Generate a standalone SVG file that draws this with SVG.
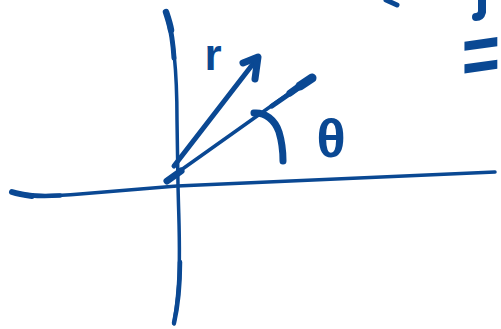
<svg xmlns="http://www.w3.org/2000/svg" width="501" height="329" viewBox="0 0 501 329">
<style>
.ink{fill:none;stroke:#0a4893;stroke-linecap:round;stroke-linejoin:round}
.lbl{fill:#0a4893;font-family:"Liberation Sans",Arial,sans-serif;font-weight:bold}
</style>
<rect width="501" height="329" fill="#ffffff"/>
<g id="axes">
<path class="ink" stroke-width="3.5" d="M166,11 C172,30 177,60 177,120 L178,185 C179,230 181,260 178,290 C177,305 175,315 174,324"/>
<path class="ink" stroke-width="6.5" d="M166,12 C168,18 170,24 171,30"/>
<path class="ink" stroke-width="5" d="M168,18 C171,30 173,42 174,58"/>
<path class="ink" stroke-width="4.5" d="M180,262 C180,290 177,310 174,323"/>
<path class="ink" stroke-width="3.5" d="M12,192 C25,196 45,197 80,194 L177,186 L495,172"/>
<path class="ink" stroke-width="6" d="M12,192 C18,194 24,195 32,196"/>
<path class="ink" stroke-width="4.5" d="M20,194 C30,196 42,196.5 60,195.5"/>
</g>
<g id="connectors">
<g id="vector-r">
<path class="ink" stroke-width="5" d="M174,166 L256,60"/>
<path class="ink" stroke-width="7" d="M243,63 L258,57 L255,79"/>
</g>
<g id="ray-theta">
<path class="ink" stroke-width="3.5" d="M167,180 L312,77"/>
<path class="ink" stroke-width="7" d="M167,181 L181,171"/>
<path class="ink" stroke-width="5" d="M272,106 L298,88"/>
<path class="ink" stroke-width="7" d="M290,93 L304,83"/>
<path class="ink" stroke-width="9" d="M300,86 L312,78"/>
</g>
<g id="angle-arc">
<path class="ink" stroke-width="7" d="M254,113 C265,112 275,120 279,132 C282,142 283,152 283,161"/>
</g>
</g>
<g id="label-r"><text class="lbl" x="213" y="70" font-size="44" text-anchor="middle">r</text></g>
<g id="label-theta"><text class="lbl" x="331" y="157" font-size="54" text-anchor="middle">θ</text></g>
<g id="fragments">
<path class="ink" stroke-width="5" d="M386,0 L397,5"/>
<path class="ink" stroke-width="8" d="M482,-2 L482,12 C481,16 478,17 476,17"/>
<text class="lbl" x="592" y="83" font-size="84" transform="matrix(0.78,-0.1092,0,1,0,67.5)">=</text>
</g>
</svg>
